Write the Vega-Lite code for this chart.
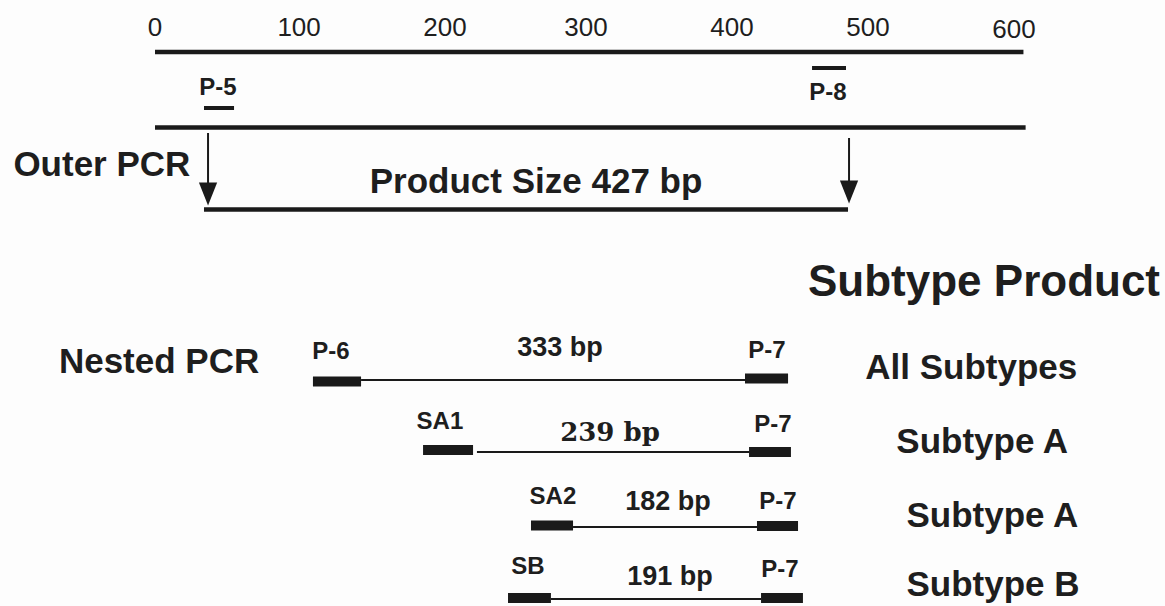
{
  "$schema": "https://vega.github.io/schema/vega-lite/v6.json",
  "autosize": {"type": "fit", "contains": "padding"},
  "width": 1165,
  "height": 606,
  "padding": 0,
  "background": "#fdfdfd",
  "config": {"view": {"stroke": null}},
  "datasets": {
    "segments": [
      {"kind": "scale", "start": 0, "end": 601, "row": 52},
      {"kind": "scale", "start": 0, "end": 602.5, "row": 127.5},
      {"kind": "scale", "start": 33.9, "end": 479.6, "row": 209.5},
      {"kind": "outerPrimer", "start": 33.9, "end": 54.7, "row": 108},
      {"kind": "outerPrimer", "start": 454.7, "end": 478.2, "row": 68},
      {"kind": "primer", "start": 109.3, "end": 142.6, "row": 381.5},
      {"kind": "primer", "start": 408.3, "end": 438.1, "row": 378.5},
      {"kind": "amplicon", "start": 142.6, "end": 408.3, "row": 380},
      {"kind": "primer", "start": 185.5, "end": 220.1, "row": 450},
      {"kind": "primer", "start": 411.1, "end": 440.1, "row": 452},
      {"kind": "amplicon", "start": 222.8, "end": 411.1, "row": 452},
      {"kind": "primer", "start": 260.2, "end": 289.3, "row": 525.5},
      {"kind": "primer", "start": 416.6, "end": 445.0, "row": 526},
      {"kind": "amplicon", "start": 289.3, "end": 416.6, "row": 527},
      {"kind": "primer", "start": 244.3, "end": 274.0, "row": 598},
      {"kind": "primer", "start": 419.4, "end": 448.4, "row": 598},
      {"kind": "amplicon", "start": 274.0, "end": 419.4, "row": 599}
    ],
    "arrows": [
      {"pos": 36.7, "top": 133, "bottom": 186, "head": 194},
      {"pos": 480.3, "top": 138, "bottom": 184, "head": 192}
    ],
    "labels": [
      {"kind": "tick", "text": "0", "pos": 0, "row": 28},
      {"kind": "tick", "text": "100", "pos": 99.7, "row": 28},
      {"kind": "tick", "text": "200", "pos": 200.7, "row": 28},
      {"kind": "tick", "text": "300", "pos": 298.3, "row": 28},
      {"kind": "tick", "text": "400", "pos": 399.3, "row": 28},
      {"kind": "tick", "text": "500", "pos": 493.4, "row": 28},
      {"kind": "tick", "text": "600", "pos": 594.5, "row": 30},
      {"kind": "primer", "text": "P-5", "pos": 43.6, "row": 88},
      {"kind": "primer", "text": "P-8", "pos": 465.7, "row": 93},
      {"kind": "title", "text": "Outer PCR", "pos": -98, "row": 165},
      {"kind": "titleCenter", "text": "Product Size 427 bp", "pos": 263.7, "row": 182},
      {"kind": "header", "text": "Subtype Product", "pos": 451.9, "row": 283},
      {"kind": "title", "text": "Nested PCR", "pos": -66.5, "row": 362},
      {"kind": "primer", "text": "P-6", "pos": 121.8, "row": 352},
      {"kind": "size", "text": "333 bp", "pos": 280.3, "row": 348},
      {"kind": "primer", "text": "P-7", "pos": 423.5, "row": 351},
      {"kind": "title", "text": "All Subtypes", "pos": 491.5, "row": 368},
      {"kind": "primer", "text": "SA1", "pos": 197.2, "row": 422},
      {"kind": "sizeSerif", "text": "239 bp", "pos": 314.9, "row": 433},
      {"kind": "primer", "text": "P-7", "pos": 427.7, "row": 425},
      {"kind": "title", "text": "Subtype A", "pos": 513, "row": 442},
      {"kind": "primer", "text": "SA2", "pos": 275.4, "row": 497},
      {"kind": "size", "text": "182 bp", "pos": 355.0, "row": 502},
      {"kind": "primer", "text": "P-7", "pos": 431.1, "row": 502},
      {"kind": "title", "text": "Subtype A", "pos": 520, "row": 516},
      {"kind": "primer", "text": "SB", "pos": 258.1, "row": 567},
      {"kind": "size", "text": "191 bp", "pos": 356.4, "row": 577},
      {"kind": "primer", "text": "P-7", "pos": 432.5, "row": 570},
      {"kind": "title", "text": "Subtype B", "pos": 520, "row": 585}
    ]
  },
  "encoding": {
    "x": {"type": "quantitative", "scale": {"domain": [-107.27, 698.96], "nice": false, "zero": false}, "axis": null},
    "y": {"type": "quantitative", "scale": {"domain": [0, 606], "nice": false, "zero": false, "reverse": true}, "axis": null}
  },
  "layer": [
    {
      "data": {"name": "segments"},
      "transform": [{"filter": "datum.kind === 'scale'"}],
      "mark": {"type": "rule", "strokeWidth": 4.5, "color": "#1a1a1a"},
      "encoding": {"x": {"field": "start"}, "x2": {"field": "end"}, "y": {"field": "row"}}
    },
    {
      "data": {"name": "segments"},
      "transform": [{"filter": "datum.kind === 'outerPrimer'"}],
      "mark": {"type": "rule", "strokeWidth": 4, "color": "#1a1a1a"},
      "encoding": {"x": {"field": "start"}, "x2": {"field": "end"}, "y": {"field": "row"}}
    },
    {
      "data": {"name": "segments"},
      "transform": [{"filter": "datum.kind === 'primer'"}],
      "mark": {"type": "rule", "strokeWidth": 10, "color": "#1a1a1a"},
      "encoding": {"x": {"field": "start"}, "x2": {"field": "end"}, "y": {"field": "row"}}
    },
    {
      "data": {"name": "segments"},
      "transform": [{"filter": "datum.kind === 'amplicon'"}],
      "mark": {"type": "rule", "strokeWidth": 2, "color": "#1a1a1a"},
      "encoding": {"x": {"field": "start"}, "x2": {"field": "end"}, "y": {"field": "row"}}
    },
    {
      "data": {"name": "arrows"},
      "mark": {"type": "rule", "strokeWidth": 2, "color": "#1a1a1a"},
      "encoding": {"x": {"field": "pos"}, "y": {"field": "top"}, "y2": {"field": "bottom"}}
    },
    {
      "data": {"name": "arrows"},
      "mark": {"type": "point", "filled": true, "opacity": 1, "color": "#1a1a1a", "size": 520, "shape": "M -0.8 -1 L 0.8 -1 L 0 1 Z"},
      "encoding": {"x": {"field": "pos"}, "y": {"field": "head"}}
    },
    {
      "data": {"name": "labels"},
      "transform": [{"filter": "datum.kind === 'tick'"}],
      "mark": {"type": "text", "font": "Liberation Sans", "fontSize": 26, "align": "center", "baseline": "middle", "color": "#1e1e1e"},
      "encoding": {"x": {"field": "pos"}, "y": {"field": "row"}, "text": {"field": "text"}}
    },
    {
      "data": {"name": "labels"},
      "transform": [{"filter": "datum.kind === 'primer'"}],
      "mark": {"type": "text", "font": "Liberation Sans", "fontWeight": "bold", "fontSize": 24, "align": "center", "baseline": "middle", "color": "#1e1e1e"},
      "encoding": {"x": {"field": "pos"}, "y": {"field": "row"}, "text": {"field": "text"}}
    },
    {
      "data": {"name": "labels"},
      "transform": [{"filter": "datum.kind === 'title'"}],
      "mark": {"type": "text", "font": "Liberation Sans", "fontWeight": "bold", "fontSize": 35, "align": "left", "baseline": "middle", "color": "#1e1e1e"},
      "encoding": {"x": {"field": "pos"}, "y": {"field": "row"}, "text": {"field": "text"}}
    },
    {
      "data": {"name": "labels"},
      "transform": [{"filter": "datum.kind === 'titleCenter'"}],
      "mark": {"type": "text", "font": "Liberation Sans", "fontWeight": "bold", "fontSize": 35, "align": "center", "baseline": "middle", "color": "#1e1e1e"},
      "encoding": {"x": {"field": "pos"}, "y": {"field": "row"}, "text": {"field": "text"}}
    },
    {
      "data": {"name": "labels"},
      "transform": [{"filter": "datum.kind === 'header'"}],
      "mark": {"type": "text", "font": "Liberation Sans", "fontWeight": "bold", "fontSize": 44, "align": "left", "baseline": "middle", "color": "#1e1e1e"},
      "encoding": {"x": {"field": "pos"}, "y": {"field": "row"}, "text": {"field": "text"}}
    },
    {
      "data": {"name": "labels"},
      "transform": [{"filter": "datum.kind === 'size'"}],
      "mark": {"type": "text", "font": "Liberation Sans", "fontWeight": "bold", "fontSize": 27, "align": "center", "baseline": "middle", "color": "#1e1e1e"},
      "encoding": {"x": {"field": "pos"}, "y": {"field": "row"}, "text": {"field": "text"}}
    },
    {
      "data": {"name": "labels"},
      "transform": [{"filter": "datum.kind === 'sizeSerif'"}],
      "mark": {"type": "text", "font": "DejaVu Serif", "fontWeight": "bold", "fontSize": 26, "align": "center", "baseline": "middle", "color": "#1e1e1e"},
      "encoding": {"x": {"field": "pos"}, "y": {"field": "row"}, "text": {"field": "text"}}
    }
  ]
}
